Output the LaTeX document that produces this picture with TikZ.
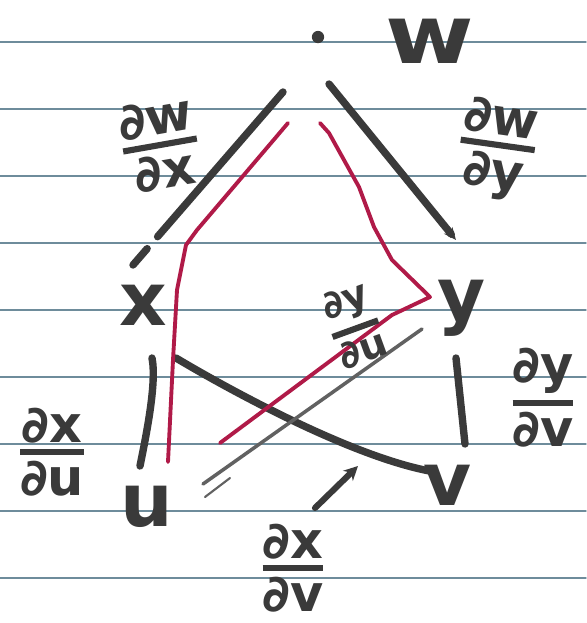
\documentclass[tikz,border=0pt]{standalone}
\usepackage{amsmath}
\usepackage{fontspec}
\setmainfont{DejaVu Sans}
\usetikzlibrary{arrows.meta}
\definecolor{ink}{RGB}{58,58,58}
\definecolor{redink}{RGB}{176,26,72}
\definecolor{paperline}{RGB}{110,140,155}
\newcommand{\pd}[2]{\ensuremath{\genfrac{}{}{3.5pt}{1}{\mbox{∂#1}}{\mbox{∂#2}}}}

\begin{document}
\begin{tikzpicture}[x=0.02cm,y=-0.02cm,line cap=round,line join=round,
  pen/.style={draw=ink,line width=4.2pt},
  graypen/.style={draw=ink!80,line width=2pt},
  redpen/.style={draw=redink,line width=2.2pt},
  dotnode/.style={circle,fill=ink,inner sep=0pt,minimum size=7pt},
  letter/.style={text=ink,font=\fontsize{42}{46}\selectfont\bfseries,inner sep=0pt},
  frac/.style={text=ink,font=\fontsize{29}{32}\selectfont\bfseries,inner sep=0pt}]
  \useasboundingbox[fill=white](0,0)rectangle(586,623);
  \foreach \k in {0,...,8}
    \draw[paperline,line width=0.8pt](0,42+67*\k)--(586,42+67*\k);

  \node[dotnode] (w) at (318,37) {};
  \node[letter,xscale=1.3,yscale=1.1] (wlbl) at (430,41) {w};
  \node[letter] (x) at (143,305) {x};
  \node[letter] (y) at (462,308) {y};
  \node[letter] (u) at (147,507) {u};
  \node[letter] (v) at (448,485) {v};

  \draw[pen,dash pattern=on 109pt off 9pt on 13pt]([shift={(-35,55)}]w.center)--([shift={(-10,-40)}]x.center);
  \draw[pen,-{Stealth[length=7pt,width=6pt]}]([shift={(11,47)}]w.center)--([shift={(-6,-68)}]y.center);
  \draw[pen]([shift={(9,53)}]x.center) .. controls +(5,25) and +(6,-30) .. ([shift={(-7,-41)}]u.center);
  \draw[pen]([shift={(-6,50)}]y.center)--([shift={(17,-41)}]v.center);
  \draw[pen]([shift={(33,53)}]x.center) .. controls +(25,15) and +(-90,-15) .. ([shift={(-13,-13)}]v.center);
  \draw[graypen]([shift={(-40,21)}]y.center)--([shift={(56,-23)}]u.center);
  \draw[graypen,line width=1.2pt]([shift={(58,-10)}]u.center)--([shift={(83,-29)}]u.center);

  \draw[redpen](288,123)--(277,136)--(197,230)--(186,245)--(177,290)--(173,360)--(168,462);
  \draw[redpen](320,123)--(329,133)--(359,187)--(374,227)--(392,260)--(430,297)--(392,315)--(220,443);

  \node[frac,rotate=10] (dwdx) at (160,145) {\pd{w}{x}};
  \node[frac,rotate=-8] (dwdy) at (497,150) {\pd{w}{y}};
  \node[frac,font=\fontsize{22}{25}\selectfont\bfseries,rotate=20] (dydu) at (354,325) {\pd{y}{u}};
  \node[frac] (dxdu) at (52,452) {\pd{x}{u}};
  \node[frac] (dydv) at (543,398) {\pd{y}{v}};
  \node[frac] (dxdv) at (293,568) {\pd{x}{v}};

  \coordinate (xvtip) at (358,466);
  \draw[pen,line width=3.5pt,-{Stealth[length=8pt,width=8pt]}]([shift={(22,-60)}]dxdv.center)--(xvtip);
\end{tikzpicture}
\end{document}
